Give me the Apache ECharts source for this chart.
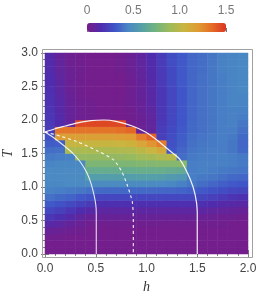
<!DOCTYPE html>
<html><head><meta charset="utf-8">
<script src="https://cdn.jsdelivr.net/npm/echarts@6/dist/echarts.min.js"></script>
<style>html,body{margin:0;padding:0;background:#fff}#c{width:258px;height:300px}</style>
</head><body><div id="c"></div>
<script>
// cell centres of the density grid
const hCenters = [0.05,0.15,0.25,0.35,0.45,0.55,0.65,0.75,0.85,0.95,1.05,1.15,1.25,1.35,1.45,1.55,1.65,1.75,1.85,1.95];
const tCenters = [0.05,0.15,0.25,0.35,0.45,0.55,0.65,0.75,0.85,0.95,1.05,1.15,1.25,1.35,1.45,1.55,1.65,1.75,1.85,1.95,2.05,2.15,2.25,2.35,2.45,2.55,2.65,2.75,2.85,2.95];

// values per h column, T ascending
const col00 = [0.02,0.02,0.03,0.06,0.12,0.19,0.25,0.31,0.38,0.43, 0.45,0.46,0.46,0.44,0.41,0.37,0.32,0.28,0.21,0.2, 0.19,0.18,0.17,0.17,0.16,0.15,0.15,0.14,0.14,0.13];
const col01 = [0.02,0.02,0.03,0.05,0.1,0.16,0.22,0.29,0.36,0.42, 0.45,0.46,0.46,0.45,0.42,0.38,0.33,1.17,1.32,0.14, 0.13,0.12,0.12,0.11,0.1,0.1,0.09,0.08,0.08,0.07];
const col02 = [0.02,0.02,0.02,0.04,0.07,0.13,0.19,0.26,0.34,0.41, 0.46,0.46,0.46,0.45,0.43,0.94,1.04,1.17,1.32,0.08, 0.07,0.07,0.06,0.06,0.05,0.05,0.05,0.05,0.04,0.04];
const col03 = [0.02,0.02,0.02,0.03,0.05,0.09,0.15,0.23,0.31,0.4, 0.46,0.47,0.46,0.45,0.86,0.94,1.04,1.17,1.32,1.45, 0.04,0.04,0.04,0.03,0.03,0.03,0.03,0.03,0.03,0.03];
const col04 = [0.02,0.02,0.02,0.02,0.03,0.06,0.12,0.2,0.29,0.38, 0.47,0.57,0.68,0.78,0.86,0.94,1.04,1.17,1.32,1.45, 0.03,0.03,0.03,0.02,0.02,0.02,0.02,0.02,0.02,0.02];
const col05 = [0.02,0.02,0.02,0.02,0.03,0.06,0.1,0.16,0.25,0.36, 0.47,0.57,0.68,0.78,0.86,0.94,1.04,1.17,1.32,1.45, 0.02,0.02,0.02,0.02,0.02,0.02,0.02,0.02,0.02,0.02];
const col06 = [0.02,0.02,0.02,0.02,0.03,0.06,0.1,0.16,0.25,0.36, 0.47,0.57,0.68,0.78,0.86,0.94,1.04,1.17,1.32,1.45, 0.02,0.02,0.02,0.02,0.02,0.02,0.02,0.02,0.02,0.02];
const col07 = [0.02,0.02,0.02,0.02,0.03,0.06,0.1,0.16,0.25,0.36, 0.47,0.57,0.68,0.78,0.86,0.95,1.05,1.18,1.34,1.45, 0.02,0.02,0.02,0.02,0.02,0.02,0.02,0.03,0.03,0.03];
const col08 = [0.02,0.02,0.02,0.02,0.03,0.06,0.1,0.16,0.25,0.36, 0.47,0.57,0.68,0.78,0.87,0.96,1.07,1.2,1.36,0.03, 0.03,0.03,0.04,0.04,0.04,0.04,0.04,0.05,0.05,0.05];
const col09 = [0.02,0.02,0.02,0.02,0.03,0.06,0.1,0.16,0.25,0.36, 0.47,0.58,0.69,0.8,0.9,1.0,1.14,1.3,0.05,0.05, 0.05,0.06,0.06,0.07,0.07,0.07,0.08,0.08,0.09,0.09];
const col10 = [0.02,0.02,0.02,0.02,0.03,0.06,0.1,0.16,0.25,0.36, 0.47,0.58,0.69,0.8,0.92,1.05,1.22,1.38,0.08,0.09, 0.09,0.1,0.11,0.11,0.12,0.12,0.13,0.14,0.14,0.15];
const col11 = [0.02,0.02,0.02,0.02,0.03,0.06,0.1,0.16,0.25,0.35, 0.46,0.57,0.69,0.81,0.95,1.12,1.3,0.22,0.21,0.2, 0.19,0.19,0.19,0.19,0.19,0.2,0.2,0.2,0.21,0.21];
const col12 = [0.02,0.02,0.02,0.02,0.03,0.06,0.1,0.16,0.25,0.35, 0.45,0.55,0.67,0.81,0.98,0.3,0.28,0.27,0.26,0.25, 0.25,0.25,0.25,0.25,0.25,0.26,0.26,0.26,0.27,0.27];
const col13 = [0.02,0.02,0.02,0.02,0.03,0.06,0.1,0.16,0.25,0.34, 0.43,0.53,0.66,0.82,0.37,0.35,0.33,0.32,0.31,0.3, 0.3,0.3,0.3,0.3,0.3,0.31,0.31,0.31,0.31,0.31];
const col14 = [0.02,0.02,0.02,0.02,0.03,0.06,0.1,0.16,0.25,0.33, 0.4,0.42,0.42,0.42,0.41,0.39,0.38,0.37,0.36,0.36, 0.35,0.35,0.35,0.35,0.35,0.35,0.35,0.35,0.35,0.35];
const col15 = [0.02,0.02,0.02,0.02,0.03,0.05,0.1,0.16,0.24,0.31, 0.37,0.41,0.43,0.43,0.42,0.41,0.4,0.39,0.38,0.38, 0.38,0.38,0.38,0.38,0.38,0.38,0.38,0.37,0.37,0.37];
const col16 = [0.02,0.02,0.02,0.02,0.03,0.05,0.09,0.15,0.22,0.29, 0.35,0.4,0.42,0.43,0.42,0.42,0.41,0.41,0.4,0.4, 0.4,0.4,0.4,0.4,0.4,0.4,0.4,0.4,0.4,0.4];
const col17 = [0.02,0.02,0.02,0.02,0.03,0.04,0.08,0.13,0.2,0.27, 0.33,0.38,0.41,0.43,0.43,0.42,0.42,0.42,0.42,0.42, 0.42,0.42,0.42,0.42,0.42,0.42,0.42,0.43,0.43,0.43];
const col18 = [0.02,0.02,0.02,0.02,0.02,0.04,0.07,0.12,0.18,0.25, 0.31,0.36,0.4,0.42,0.42,0.4,0.4,0.41,0.42,0.43, 0.43,0.43,0.44,0.44,0.44,0.44,0.44,0.44,0.44,0.44];
const col19 = [0.02,0.02,0.02,0.02,0.02,0.03,0.06,0.11,0.17,0.24, 0.3,0.35,0.39,0.41,0.41,0.36,0.35,0.36,0.38,0.4, 0.42,0.43,0.44,0.44,0.45,0.45,0.45,0.45,0.45,0.45];
const columns = [col00,col01,col02,col03,col04,col05,col06,col07,col08,col09,col10,col11,col12,col13,col14,col15,col16,col17,col18,col19];

// white boundary curves [h, T]
const outerCurve = [[0,1.82],[0.1,1.87],[0.2,1.91],[0.3,1.95],[0.45,1.99],[0.58,2.0],[0.7,1.98],[0.86,1.91],[0.99,1.82],[1.12,1.68],[1.23,1.54],[1.33,1.41],[1.43,1.12],[1.48,0.88],[1.5,0.63],[1.5,0]];
const innerCurve = [[0,1.82],[0.1,1.72],[0.2,1.6],[0.27,1.51],[0.35,1.37],[0.41,1.22],[0.45,1.07],[0.48,0.9],[0.5,0.74],[0.505,0.6],[0.505,0]];
const dashedCurve = [[0,1.82],[0.15,1.76],[0.31,1.68],[0.53,1.53],[0.68,1.4],[0.76,1.22],[0.81,1.03],[0.86,0.78],[0.87,0.53],[0.87,0]];

const palette = ['#781c87','#4f2cae','#3f55c8','#4a88c4','#57a2a4','#74b47c','#a0bb58','#c9b53f','#e09b33','#e46c28','#db3421'];

const heat = [];
columns.forEach((col,i)=>col.forEach((v,j)=>heat.push([i,j,v])));

const tickGray = '#808080';
const labFont = 'Liberation Sans, Arial, sans-serif';
function frameAxis(extra){
  return Object.assign({
    type:'value', gridIndex:1, splitLine:{show:false},
    axisLine:{show:false},
    axisTick:{show:true, inside:true, length:4, lineStyle:{color:tickGray, width:1}},
    minorTick:{show:true, splitNumber:5, length:2, lineStyle:{color:tickGray, width:1}},
    axisLabel:{show:false}
  }, extra);
}
const labelStyle = {show:true, color:'#444', fontSize:12, fontFamily:labFont, formatter:v=>v.toFixed(1)};
const gridBase = {outerBoundsMode:'none', containLabel:false};

const chart = echarts.init(document.getElementById('c'), null, {renderer:'canvas'});
chart.setOption({
  animation:false,
  backgroundColor:'#fff',
  grid:[
    Object.assign({left:45, top:53, width:203, height:201}, gridBase),
    Object.assign({left:45, top:53, width:203, height:201}, gridBase),
    Object.assign({left:87, top:23, width:139, height:9}, gridBase)
  ],
  xAxis:[
    {type:'category', gridIndex:0, data:hCenters.map(String), show:false},
    frameAxis({position:'bottom', offset:4, min:0, max:2, interval:0.5,
      axisLabel:Object.assign({margin:5}, labelStyle),
      name:'h', nameLocation:'middle', nameGap:22, nameMoveOverlap:false,
      nameTextStyle:{fontStyle:'italic', fontFamily:'Liberation Serif, serif', fontSize:14, color:'#333'}}),
    frameAxis({position:'top', offset:4, min:0, max:2, interval:0.5}),
    {type:'value', gridIndex:2, position:'top', min:0, max:1.5, interval:0.5,
      axisLine:{show:false}, splitLine:{show:false},
      axisTick:{show:true, inside:false, length:4, lineStyle:{color:'#777'}},
      minorTick:{show:true, splitNumber:5, length:2, lineStyle:{color:'#999'}},
      axisLabel:{color:'#777', fontSize:12, fontFamily:labFont, margin:6, formatter:v=>v===0?'0':v.toFixed(1)}}
  ],
  yAxis:[
    {type:'category', gridIndex:0, data:tCenters.map(String), show:false},
    frameAxis({position:'left', offset:3, min:0, max:3, interval:0.5,
      axisLabel:Object.assign({margin:4}, labelStyle),
      name:'T', nameLocation:'middle', nameGap:27, nameMoveOverlap:false,
      nameTextStyle:{fontStyle:'italic', fontFamily:'Liberation Serif, serif', fontSize:14, color:'#333'}}),
    frameAxis({position:'right', offset:5, min:0, max:3, interval:0.5}),
    {type:'value', gridIndex:2, show:false, min:0, max:1}
  ],
  visualMap:{
    type:'continuous', min:0, max:1.5, seriesIndex:0, dimension:2,
    orient:'horizontal', left:87, top:23, itemWidth:9, itemHeight:139,
    padding:0, calculable:false, hoverLink:false, z:1,
    inRange:{color:palette}
  },
  graphic:[{type:'rect', silent:true, z:100,
    shape:{x:42.5, y:49.5, width:210, height:208},
    style:{fill:null, stroke:'#a0a0a0', lineWidth:1}}],
  series:[
    {type:'heatmap', xAxisIndex:0, yAxisIndex:0, data:heat, silent:true, emphasis:{disabled:true}},
    {type:'line', xAxisIndex:1, yAxisIndex:1, data:outerCurve, symbol:'none', smooth:0.2, silent:true,
      lineStyle:{color:'rgba(255,255,255,0.92)', width:1.2}},
    {type:'line', xAxisIndex:1, yAxisIndex:1, data:innerCurve, symbol:'none', smooth:0.2, silent:true,
      lineStyle:{color:'rgba(255,255,255,0.85)', width:1.1}},
    {type:'line', xAxisIndex:1, yAxisIndex:1, data:dashedCurve, symbol:'none', smooth:0.2, silent:true,
      lineStyle:{color:'rgba(255,255,255,0.92)', width:1.1, type:[3,3]}}
  ]
});
</script>
</body></html>
